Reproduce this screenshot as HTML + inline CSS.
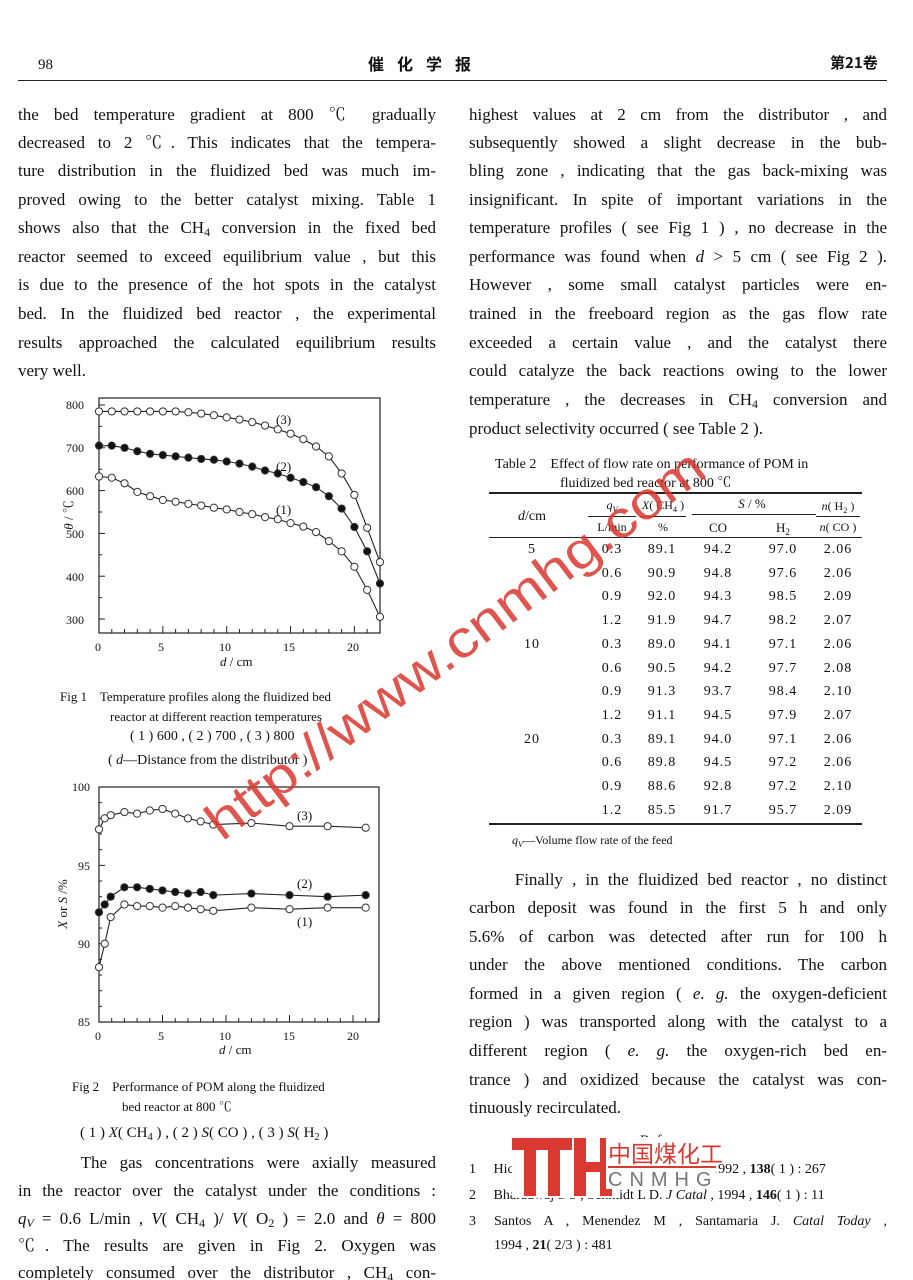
<!DOCTYPE html>
<html><head><meta charset="utf-8">
<style>
html,body{margin:0;padding:0;background:#fff;}
#pg{position:relative;width:913px;height:1280px;overflow:hidden;background:#fff;color:#111;font-family:"Liberation Serif","Noto Serif CJK SC",serif;}
.l{position:absolute;white-space:nowrap;font-size:17px;line-height:20px;}
.j{text-align:justify;text-align-last:justify;white-space:normal;height:20px;overflow:hidden;}
.s{position:absolute;white-space:nowrap;font-size:13px;line-height:16px;}
.t{position:absolute;font-size:14px;line-height:16px;text-align:center;width:60px;}
.ax{position:absolute;font-size:12px;line-height:14px;}
i{font-style:italic}
sub{font-size:70%;vertical-align:-3px;line-height:0}
</style></head><body><div id="pg">

<div class="l" style="left:38px;top:55px;font-size:15px">98</div>
<div class="l" style="left:368px;top:53px;font-family:'Noto Sans CJK SC',sans-serif;font-size:16px;font-weight:bold;letter-spacing:13px">催化学报</div>
<div class="l" style="left:830px;top:53px;font-family:'Noto Sans CJK SC',sans-serif;font-size:15px;font-weight:bold">第21卷</div>
<div style="position:absolute;left:18px;top:80px;width:869px;height:1px;background:#222"></div>

<!-- left column -->
<div class="l j" style="left:18px;width:418px;top:105px">the bed temperature gradient at 800 ℃ gradually</div>
<div class="l j" style="left:18px;width:418px;top:133px">decreased to 2 ℃. This indicates that the tempera-</div>
<div class="l j" style="left:18px;width:418px;top:161px">ture distribution in the fluidized bed was much im-</div>
<div class="l j" style="left:18px;width:418px;top:190px">proved owing to the better catalyst mixing. Table 1</div>
<div class="l j" style="left:18px;width:418px;top:218px">shows also that the CH<sub>4</sub> conversion in the fixed bed</div>
<div class="l j" style="left:18px;width:418px;top:247px">reactor seemed to exceed equilibrium value , but this</div>
<div class="l j" style="left:18px;width:418px;top:275px">is due to the presence of the hot spots in the catalyst</div>
<div class="l j" style="left:18px;width:418px;top:304px">bed. In the fluidized bed reactor , the experimental</div>
<div class="l j" style="left:18px;width:418px;top:333px">results approached the calculated equilibrium results</div>
<div class="l" style="left:18px;top:361px">very well.</div>

<svg id="f1" style="position:absolute;left:0;top:0" width="913" height="1280"></svg>

<div class="ax" style="left:66px;top:398px">800</div>
<div class="ax" style="left:66px;top:441px">700</div>
<div class="ax" style="left:66px;top:484px">600</div>
<div class="ax" style="left:66px;top:527px">500</div>
<div class="ax" style="left:66px;top:570px">400</div>
<div class="ax" style="left:66px;top:613px">300</div>
<div class="ax" style="left:95px;top:640px">0</div>
<div class="ax" style="left:158px;top:640px">5</div>
<div class="ax" style="left:219px;top:640px">10</div>
<div class="ax" style="left:283px;top:640px">15</div>
<div class="ax" style="left:347px;top:640px">20</div>
<div class="ax" style="left:220px;top:655px;font-size:13px"><i>d</i> / cm</div>
<div class="ax" style="left:54px;top:508px;transform:rotate(-90deg);font-size:13px"><i>θ</i> / ℃</div>
<div class="ax" style="left:276px;top:413px;font-size:13px">(3)</div>
<div class="ax" style="left:276px;top:460px;font-size:13px">(2)</div>
<div class="ax" style="left:276px;top:503px;font-size:13px">(1)</div>

<div class="s" style="left:60px;top:689px">Fig 1&nbsp;&nbsp;&nbsp; Temperature profiles along the fluidized bed</div>
<div class="s" style="left:110px;top:709px">reactor at different reaction temperatures</div>
<div class="s" style="left:130px;top:729px;font-size:14px">( 1 ) 600 , ( 2 ) 700 , ( 3 ) 800</div>
<div class="s" style="left:108px;top:753px;font-size:14px">( <i>d</i>—Distance from the distributor )</div>

<div class="ax" style="left:72px;top:780px">100</div>
<div class="ax" style="left:78px;top:859px">95</div>
<div class="ax" style="left:78px;top:937px">90</div>
<div class="ax" style="left:78px;top:1015px">85</div>
<div class="ax" style="left:95px;top:1029px">0</div>
<div class="ax" style="left:158px;top:1029px">5</div>
<div class="ax" style="left:219px;top:1029px">10</div>
<div class="ax" style="left:283px;top:1029px">15</div>
<div class="ax" style="left:347px;top:1029px">20</div>
<div class="ax" style="left:219px;top:1043px;font-size:13px"><i>d</i> / cm</div>
<div class="ax" style="left:38px;top:897px;transform:rotate(-90deg);font-size:13px"><i>X</i> or <i>S</i> /%</div>
<div class="ax" style="left:297px;top:809px;font-size:13px">(3)</div>
<div class="ax" style="left:297px;top:877px;font-size:13px">(2)</div>
<div class="ax" style="left:297px;top:915px;font-size:13px">(1)</div>

<div class="s" style="left:72px;top:1079px">Fig 2&nbsp;&nbsp;&nbsp; Performance of POM along the fluidized</div>
<div class="s" style="left:122px;top:1099px">bed reactor at 800 ℃</div>
<div class="s" style="left:80px;top:1125px;font-size:15px">( 1 ) <i>X</i>( CH<sub>4</sub> ) , ( 2 ) <i>S</i>( CO ) , ( 3 ) <i>S</i>( H<sub>2</sub> )</div>

<div class="l j" style="left:18px;width:418px;top:1153px">&nbsp;&nbsp;&nbsp;&nbsp;&nbsp;The gas concentrations were axially measured</div>
<div class="l j" style="left:18px;width:418px;top:1181px">in the reactor over the catalyst under the conditions :</div>
<div class="l j" style="left:18px;width:418px;top:1209px"><i>q<sub>V</sub></i> = 0.6 L/min , <i>V</i>( CH<sub>4</sub> )/ <i>V</i>( O<sub>2</sub> ) = 2.0 and <i>θ</i> = 800</div>
<div class="l j" style="left:18px;width:418px;top:1236px">℃. The results are given in Fig 2. Oxygen was</div>
<div class="l j" style="left:18px;width:418px;top:1263px">completely consumed over the distributor , CH<sub>4</sub> con-</div>

<!-- right column -->
<div class="l j" style="left:469px;width:418px;top:105px">highest values at 2 cm from the distributor , and</div>
<div class="l j" style="left:469px;width:418px;top:133px">subsequently showed a slight decrease in the bub-</div>
<div class="l j" style="left:469px;width:418px;top:161px">bling zone , indicating that the gas back-mixing was</div>
<div class="l j" style="left:469px;width:418px;top:190px">insignificant. In spite of important variations in the</div>
<div class="l j" style="left:469px;width:418px;top:218px">temperature profiles ( see Fig 1 ) , no decrease in the</div>
<div class="l j" style="left:469px;width:418px;top:247px">performance was found when <i>d</i> &gt; 5 cm ( see Fig 2 ).</div>
<div class="l j" style="left:469px;width:418px;top:275px">However , some small catalyst particles were en-</div>
<div class="l j" style="left:469px;width:418px;top:304px">trained in the freeboard region as the gas flow rate</div>
<div class="l j" style="left:469px;width:418px;top:333px">exceeded a certain value , and the catalyst there</div>
<div class="l j" style="left:469px;width:418px;top:361px">could catalyze the back reactions owing to the lower</div>
<div class="l j" style="left:469px;width:418px;top:390px">temperature , the decreases in CH<sub>4</sub> conversion and</div>
<div class="l" style="left:469px;top:419px">product selectivity occurred ( see Table 2 ).</div>

<div class="s" style="left:495px;top:457px;font-size:14px">Table 2&nbsp;&nbsp;&nbsp; Effect of flow rate on performance of POM in</div>
<div class="s" style="left:560px;top:476px;font-size:14px">fluidized bed reactor at 800 ℃</div>
<div style="position:absolute;left:489px;top:492px;width:373px;height:2px;background:#222"></div>
<div style="position:absolute;left:489px;top:537px;width:373px;height:1px;background:#222"></div>
<div style="position:absolute;left:489px;top:823px;width:373px;height:2px;background:#222"></div>
<div style="position:absolute;left:588px;top:516px;width:48px;height:1px;background:#222"></div>
<div style="position:absolute;left:640px;top:516px;width:46px;height:1px;background:#222"></div>
<div style="position:absolute;left:692px;top:514px;width:124px;height:1px;background:#222"></div>
<div style="position:absolute;left:816px;top:516px;width:44px;height:1px;background:#222"></div>
<div class="t" style="left:502px;top:509px"><i>d</i>/cm</div>
<div class="t" style="left:582px;top:497px;font-size:12px"><i>q<sub>V</sub></i></div>
<div class="t" style="left:582px;top:519px;font-size:12px">L/min</div>
<div class="t" style="left:633px;top:497px;font-size:12px"><i>X</i>( CH<sub>4</sub> )</div>
<div class="t" style="left:633px;top:519px;font-size:12px">%</div>
<div class="t" style="left:722px;top:496px;font-size:13px"><i>S</i> / %</div>
<div class="t" style="left:688px;top:520px;font-size:13px">CO</div>
<div class="t" style="left:753px;top:520px;font-size:13px">H<sub>2</sub></div>
<div class="t" style="left:808px;top:498px;font-size:12px"><i>n</i>( H<sub>2</sub> )</div>
<div class="t" style="left:808px;top:519px;font-size:12px"><i>n</i>( CO )</div>
<div id="tb"></div>
<div class="s" style="left:512px;top:832px;font-size:12px"><i>q<sub>V</sub></i>—Volume flow rate of the feed</div>

<div class="l j" style="left:469px;width:418px;top:870px">&nbsp;&nbsp;&nbsp;&nbsp;&nbsp;Finally , in the fluidized bed reactor , no distinct</div>
<div class="l j" style="left:469px;width:418px;top:898px">carbon deposit was found in the first 5 h and only</div>
<div class="l j" style="left:469px;width:418px;top:927px">5.6% of carbon was detected after run for 100 h</div>
<div class="l j" style="left:469px;width:418px;top:955px">under the above mentioned conditions. The carbon</div>
<div class="l j" style="left:469px;width:418px;top:984px">formed in a given region ( <i>e. g.</i> the oxygen-deficient</div>
<div class="l j" style="left:469px;width:418px;top:1012px">region ) was transported along with the catalyst to a</div>
<div class="l j" style="left:469px;width:418px;top:1041px">different region ( <i>e. g.</i> the oxygen-rich bed en-</div>
<div class="l j" style="left:469px;width:418px;top:1070px">trance ) and oxidized because the catalyst was con-</div>
<div class="l" style="left:469px;top:1098px">tinuously recirculated.</div>

<div class="s" style="left:640px;top:1133px;font-size:15px">References</div>
<div class="s" style="left:469px;top:1162px;font-size:14px">1&nbsp;&nbsp;&nbsp;&nbsp; Hickman D A , Schmidt L D. <i>J Catal</i> , 1992 , <b>138</b>( 1 ) : 267</div>
<div class="s" style="left:469px;top:1188px;font-size:14px">2&nbsp;&nbsp;&nbsp;&nbsp; Bharadwaj S S , Schmidt L D. <i>J Catal</i> , 1994 , <b>146</b>( 1 ) : 11</div>
<div class="s" style="left:469px;top:1214px;font-size:14px">3</div>
<div class="s" style="left:494px;top:1214px;font-size:14px;width:393px;height:16px;overflow:hidden;text-align:justify;text-align-last:justify;white-space:normal">Santos A , Menendez M , Santamaria J. <i>Catal Today</i> ,</div>
<div class="s" style="left:494px;top:1238px;font-size:14px">1994 , <b>21</b>( 2/3 ) : 481</div>

<!-- logo -->
<div style="position:absolute;left:512px;top:1138px;width:108px;height:60px;background:#fff"></div>
<svg style="position:absolute;left:512px;top:1138px" width="100" height="60">
<path d="M0 0 H60 V12 H48 V58 H36 V12 H24 V58 H12 V12 H0Z" fill="#d83a32"/>
<path d="M62 0 H74 V24 H88 V0 H100 V58 H88 V34 H74 V58 H62Z" fill="#d83a32"/>
</svg>
<div style="position:absolute;left:606px;top:1137px;width:110px;height:52px;background:#fff"></div>
<div class="l" style="left:608px;top:1138px;font-family:'Noto Sans CJK SC',sans-serif;font-size:23px;line-height:28px;color:#d83a32">中国煤化工</div>
<div style="position:absolute;left:608px;top:1166px;width:108px;height:2px;background:#d83a32"></div>
<div class="l" style="left:608px;top:1170px;font-family:'Liberation Sans',sans-serif;font-size:20px;letter-spacing:7px;color:#777">CNMHG</div>

<!-- watermark -->
<svg style="position:absolute;left:0;top:0;pointer-events:none" width="913" height="1280">
<text x="0" y="0" transform="translate(222,842) rotate(-37)" font-family="Liberation Sans,sans-serif" font-size="52" fill="#d9362e" fill-opacity="0.85" textLength="610" lengthAdjust="spacingAndGlyphs">http://www.cnmhg.com</text>
</svg>

<script>
var ns="http://www.w3.org/2000/svg",s=document.getElementById('f1');
function el(n,a){var e=document.createElementNS(ns,n);for(var k in a)e.setAttribute(k,a[k]);s.appendChild(e);return e;}
function box(x0,y0,x1,y1){el('rect',{x:x0,y:y0,width:x1-x0,height:y1-y0,fill:'none',stroke:'#222','stroke-width':1.2});}
var X1=function(v){return 99+v*12.77},Y1=function(v){return 405+(800-v)*0.428};
box(99,398,380,633);
for(var i=0;i<=22;i++){el('line',{x1:X1(i),y1:633,x2:X1(i),y2:i%5?629:626,stroke:'#222'});}
for(var v=300;v<=800;v+=50){el('line',{x1:99,y1:Y1(v),x2:v%100?102:105,y2:Y1(v),stroke:'#222'});}
var c3=[785,785,785,785,785,785,785,783,780,776,771,766,760,752,743,733,720,703,680,640,590,513,433],
c2=[705,705,700,692,686,683,680,677,674,672,668,663,656,647,640,630,620,608,587,558,515,458,383],
c1=[633,630,617,597,587,578,574,569,565,560,556,550,545,538,533,524,516,503,482,458,422,368,305];
[[c3,0],[c2,1],[c1,0]].forEach(function(c){var p=c[0].map(function(v,i){return X1(i)+','+Y1(v)}).join(' ');
el('polyline',{points:p,fill:'none',stroke:'#222','stroke-width':1.1});
c[0].forEach(function(v,i){el('circle',{cx:X1(i),cy:Y1(v),r:3.6,fill:c[1]?'#111':'#fff',stroke:'#333','stroke-width':1});});});
var X2=function(v){return 99+v*12.7},Y2=function(v){return 787+(100-v)*15.67};
box(99,787,379,1022);
for(var i=0;i<=22;i++){el('line',{x1:X2(i),y1:1022,x2:X2(i),y2:i%5?1018:1015,stroke:'#222'});}
for(var v=85;v<=100;v+=1){el('line',{x1:99,y1:Y2(v),x2:v%5?102:105,y2:Y2(v),stroke:'#222'});}
var xs=[0,0.45,0.92,2,3,4,5,6,7,8,9,12,15,18,21];
var d3=[97.3,98.0,98.2,98.4,98.3,98.5,98.6,98.3,98.0,97.8,97.6,97.7,97.5,97.5,97.4],
d2=[92.0,92.5,93.0,93.6,93.6,93.5,93.4,93.3,93.2,93.3,93.1,93.2,93.1,93.0,93.1],
d1=[88.5,90.0,91.7,92.5,92.4,92.4,92.3,92.4,92.3,92.2,92.1,92.3,92.2,92.3,92.3];
[[d3,0],[d2,1],[d1,0]].forEach(function(c){var p=c[0].map(function(v,i){return X2(xs[i])+','+Y2(v)}).join(' ');
el('polyline',{points:p,fill:'none',stroke:'#222','stroke-width':1.1});
c[0].forEach(function(v,i){el('circle',{cx:X2(xs[i]),cy:Y2(v),r:3.6,fill:c[1]?'#111':'#fff',stroke:'#333','stroke-width':1});});});
var rows=[["5","0.3","89.1","94.2","97.0","2.06"],["","0.6","90.9","94.8","97.6","2.06"],["","0.9","92.0","94.3","98.5","2.09"],["","1.2","91.9","94.7","98.2","2.07"],
["10","0.3","89.0","94.1","97.1","2.06"],["","0.6","90.5","94.2","97.7","2.08"],["","0.9","91.3","93.7","98.4","2.10"],["","1.2","91.1","94.5","97.9","2.07"],
["20","0.3","89.1","94.0","97.1","2.06"],["","0.6","89.8","94.5","97.2","2.06"],["","0.9","88.6","92.8","97.2","2.10"],["","1.2","85.5","91.7","95.7","2.09"]];
var cx=[532,612,662,718,783,838],h='';
rows.forEach(function(r,j){r.forEach(function(t,k){h+='<div class="t" style="left:'+(cx[k]-30)+'px;top:'+(542+j*23.7)+'px;letter-spacing:1px">'+t+'</div>';});});
document.getElementById('tb').innerHTML=h;
</script>
</div></body></html>
